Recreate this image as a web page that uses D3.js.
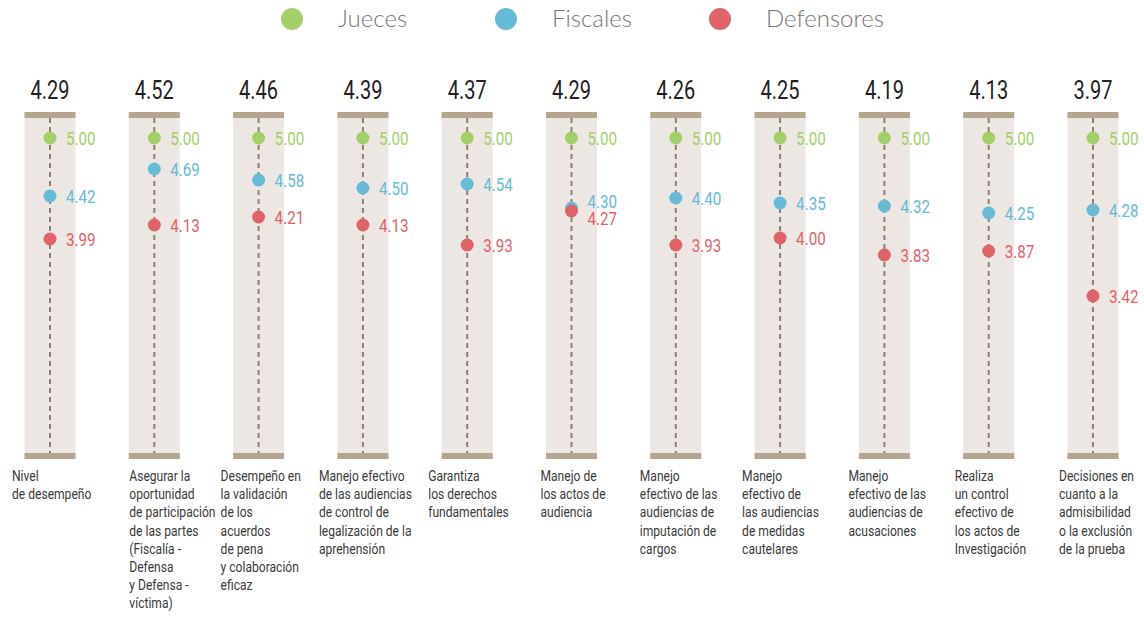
<!DOCTYPE html>
<html>
<head>
<meta charset="utf-8">
<style>
    body { margin: 0; background: #fff; }
    svg { display: block; }
    .cond { font-family: "Roboto", "Noto Sans", sans-serif; }
    .legend text { font-family: "Lato", "Open Sans", sans-serif; font-weight: 300; font-size: 24px; fill: #767676; }
</style>
</head>
<body>
<svg></svg>
<script src="https://d3js.org/d3.v7.min.js"></script>
<script>
    var vWidth = 1144;
    var vHeight = 621;

    var categories = [
        ['Nivel', 'de desempeño'],
        ['Asegurar la', 'oportunidad', 'de participación', 'de las partes', '(Fiscalía -', 'Defensa', 'y Defensa -', 'víctima)'],
        ['Desempeño en', 'la validación', 'de los', 'acuerdos', 'de pena', 'y colaboración', 'eficaz'],
        ['Manejo efectivo', 'de las audiencias', 'de control de', 'legalización de la', 'aprehensión'],
        ['Garantiza', 'los derechos', 'fundamentales'],
        ['Manejo de', 'los actos de', 'audiencia'],
        ['Manejo', 'efectivo de las', 'audiencias de', 'imputación de', 'cargos'],
        ['Manejo', 'efectivo de', 'las audiencias', 'de medidas', 'cautelares'],
        ['Manejo', 'efectivo de las', 'audiencias de', 'acusaciones'],
        ['Realiza', 'un control', 'efectivo de', 'los actos de', 'Investigación'],
        ['Decisiones en', 'cuanto a la', 'admisibilidad', 'o la exclusión', 'de la prueba']
    ];
    var overall = [4.29, 4.52, 4.46, 4.39, 4.37, 4.29, 4.26, 4.25, 4.19, 4.13, 3.97];
    var jueces = [5.00, 5.00, 5.00, 5.00, 5.00, 5.00, 5.00, 5.00, 5.00, 5.00, 5.00];
    var fiscales = [4.42, 4.69, 4.58, 4.50, 4.54, 4.30, 4.40, 4.35, 4.32, 4.25, 4.28];
    var defensores = [3.99, 4.13, 4.21, 4.13, 3.93, 4.27, 3.93, 4.00, 3.83, 3.87, 3.42];
    var seriesNames = ['Jueces', 'Fiscales', 'Defensores'];

    var colors = ['#a3d068', '#66bbd7', '#e0636a'];
    // small per-column shift of the label block, as in the original layout
    var labelDx = [-38, -25, -38, -44, -39, -31, -36, -38, -36, -34, -34];

    var svg = d3.select('svg').attr('width', vWidth).attr('height', vHeight);

    var x = d3.scalePoint().domain(d3.range(categories.length)).range([50, 1093]);
    var y = d3.scaleLinear().domain([5, 1]).range([138, 538]);

    var panelTop = 112, panelBottom = 459, panelW = 51;

    // condensed look: no narrow face installed, so squeeze horizontally
    function condText(sel, tx, ty, sx) {
        return sel.append('text').attr('class', 'cond')
            .attr('transform', 'translate(' + tx + ',' + ty + ') scale(' + sx + ',1)');
    }

    // Legend
    var legend = svg.append('g').attr('class', 'legend');
    var legX = d3.scalePoint().domain(seriesNames).range([292, 720]);
    seriesNames.forEach(function (s, i) {
        legend.append('circle').attr('cx', legX(s)).attr('cy', 19).attr('r', 11).attr('fill', colors[i]);
        legend.append('text').attr('x', legX(s) + 46).attr('y', 19).attr('dy', '0.35em').text(s);
    });

    var cols = svg.selectAll('g.col').data(categories).enter().append('g')
        .attr('class', 'col')
        .attr('transform', function (d, i) { return 'translate(' + x(i) + ',0)'; });

    cols.append('rect').attr('x', -panelW / 2).attr('y', panelTop)
        .attr('width', panelW).attr('height', panelBottom - panelTop).attr('fill', '#ece7e2');
    cols.append('rect').attr('x', -panelW / 2).attr('y', panelTop)
        .attr('width', panelW).attr('height', 6).attr('fill', '#b5a58f');
    cols.append('rect').attr('x', -panelW / 2).attr('y', panelBottom - 6)
        .attr('width', panelW).attr('height', 6).attr('fill', '#b5a58f');
    cols.append('line').attr('x1', 0).attr('x2', 0)
        .attr('y1', panelTop + 6).attr('y2', panelBottom - 6)
        .attr('stroke', '#8e8270').attr('stroke-width', 2).attr('stroke-dasharray', '5,4');

    var series = [jueces, fiscales, defensores];
    cols.each(function (d, i) {
        var g = d3.select(this);

        // overall value
        condText(g, 0, 99, 0.8)
            .attr('text-anchor', 'middle').attr('font-size', 25).attr('font-weight', 400)
            .attr('fill', '#222').text(overall[i].toFixed(2));

        var pts = series.map(function (s, k) { return { v: s[i], k: k, ly: y(s[i]) }; });
        // push apart labels that would overlap
        for (var k = 1; k < pts.length; k++) {
            var gap = pts[k].ly - pts[k - 1].ly;
            if (gap < 17) {
                var shift = (17 - gap) / 2;
                pts[k - 1].ly -= shift;
                pts[k].ly += shift;
            }
        }
        pts.forEach(function (p) {
            g.append('circle').attr('cx', 0).attr('cy', y(p.v)).attr('r', 6.5).attr('fill', colors[p.k]);
            condText(g, 16, p.ly, 0.8)
                .attr('dy', '0.36em').attr('font-size', 19).attr('fill', colors[p.k])
                .text(p.v.toFixed(2));
        });

        var t = condText(g, labelDx[i], 481, 0.78)
            .attr('font-size', 15.5).attr('fill', '#3a3a3a');
        d.forEach(function (line, j) {
            t.append('tspan').attr('x', 0).attr('dy', j === 0 ? 0 : 18.2).text(line);
        });
    });
</script>
</body>
</html>
